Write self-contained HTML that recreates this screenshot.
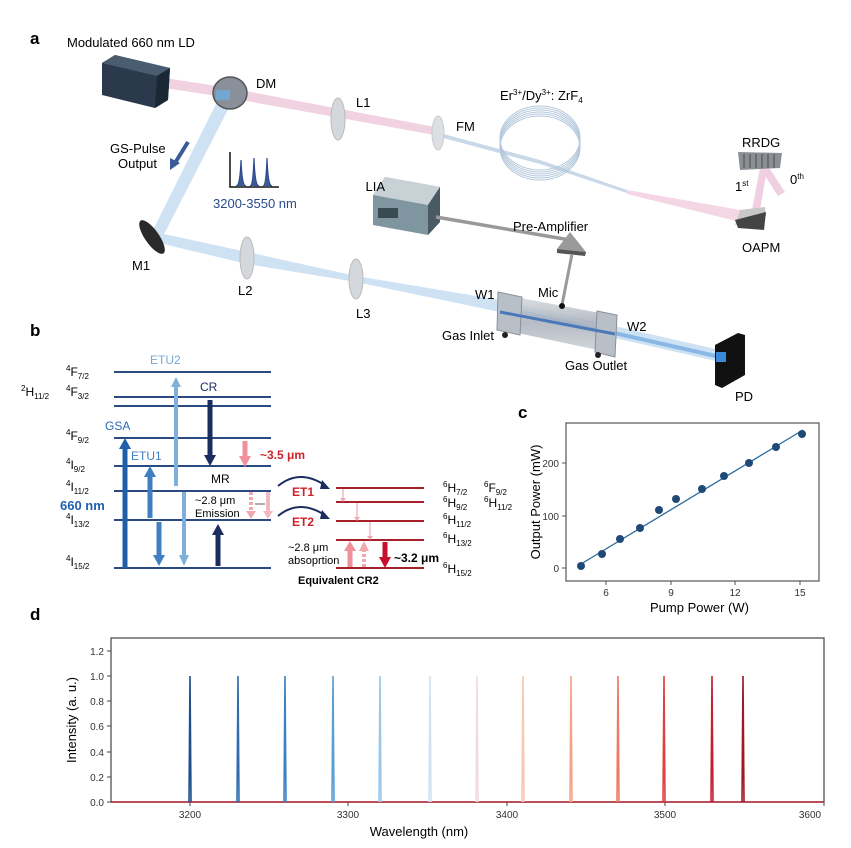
<!DOCTYPE html>
<html><head><meta charset="utf-8"><style>
html,body{margin:0;padding:0;background:#fff}
svg{display:block}
text{font-family:"Liberation Sans",Arial,sans-serif}
</style></head><body>
<svg width="851" height="848" viewBox="0 0 851 848" xmlns="http://www.w3.org/2000/svg">
<defs>
<linearGradient id="cellG" x1="0" y1="0" x2="0" y2="1"><stop offset="0" stop-color="#d8dce2"/><stop offset="0.5" stop-color="#a9b0ba"/><stop offset="1" stop-color="#c9ced5"/></linearGradient>
</defs>
<!-- ========== PANEL A ========== -->
<text x="30" y="44" font-size="17" font-weight="bold">a</text>
<text x="67" y="47" font-size="13">Modulated 660 nm LD</text>
<!-- beams -->
<polygon points="165,78 230,88 440,128 440,136 230,98 165,88" fill="#f0d2e0"/>
<polygon points="436,132 540,160 627,190 627,193 540,164 436,136" fill="#c8d8e8"/>
<polygon points="627,190 740,210 740,222 627,194" fill="#f4d6e4"/>
<polygon points="752,210 760,168 767,169 760,210" fill="#f0d0e0"/>
<polygon points="760,168 768,166 785,192 778,196" fill="#f0d0e0"/>
<polygon points="222,92 234,98 160,242 150,236" fill="#cfe2f4"/>
<polygon points="155,232 247,252 356,276 500,300 720,350 720,362 500,312 356,282 247,264 155,242" fill="#cfe2f4"/>
<line x1="500" y1="307" x2="720" y2="357" stroke="#8ab8e6" stroke-width="4"/>
<!-- LD -->
<polygon points="102,63 115,55 170,68 168,100 155,108 102,95" fill="#2a3a4c"/>
<polygon points="102,63 115,55 170,68 157,76" fill="#4a5d70"/>
<polygon points="157,76 170,68 168,100 155,108" fill="#1a2734"/>
<!-- DM -->
<ellipse cx="230" cy="93" rx="17" ry="16" fill="#8a909a" stroke="#555" stroke-width="1.5"/>
<rect x="216" y="90" width="14" height="10" fill="#6ab0e8" opacity="0.7"/>
<text x="256" y="88" font-size="13">DM</text>
<ellipse cx="338" cy="119" rx="7" ry="21" fill="#d4d7dc" stroke="#bbb"/>
<text x="356" y="107" font-size="13">L1</text>
<ellipse cx="438" cy="133" rx="6" ry="17" fill="#dcdfe3" stroke="#ccc"/>
<text x="456" y="131" font-size="13">FM</text>
<ellipse cx="247" cy="258" rx="7" ry="21" fill="#d4d7dc" stroke="#bbb"/>
<text x="238" y="295" font-size="13">L2</text>
<ellipse cx="356" cy="279" rx="7" ry="20" fill="#d4d7dc" stroke="#bbb"/>
<text x="356" y="318" font-size="13">L3</text>
<ellipse cx="152" cy="237" rx="7" ry="20" transform="rotate(-35 152 237)" fill="#2a2a2a"/>
<text x="132" y="270" font-size="13">M1</text>
<text x="110" y="153" font-size="13">GS-Pulse</text>
<text x="118" y="168" font-size="13">Output</text>
<line x1="188" y1="142" x2="175" y2="163" stroke="#3a5b98" stroke-width="4"/>
<polygon points="170,170 170,158 180,163" fill="#3a5b98"/>
<polyline points="230,152 230,187 279,187" fill="none" stroke="#111" stroke-width="1.5"/>
<path d="M236,186 Q240,186 241,160 Q242,186 246,186 M250,186 Q253,186 254,158 Q255,186 259,186 M263,186 Q266,186 267,158 Q268,186 272,186" fill="#3a5b98" stroke="#2b4a8a" stroke-width="1.2"/>
<text x="213" y="208" font-size="13" fill="#2b4a8a">3200-3550 nm</text>
<g fill="none" stroke="#b4c8dc" stroke-width="1">
<ellipse cx="540" cy="138" rx="40" ry="32"/><ellipse cx="540" cy="140" rx="40" ry="32"/><ellipse cx="540" cy="142" rx="40" ry="32"/><ellipse cx="540" cy="144" rx="40" ry="32"/><ellipse cx="540" cy="146" rx="40" ry="32"/><ellipse cx="540" cy="148" rx="40" ry="32"/>
</g>
<text x="500" y="100" font-size="13">Er<tspan font-size="8" dy="-5">3+</tspan><tspan dy="5">/Dy</tspan><tspan font-size="8" dy="-5">3+</tspan><tspan dy="5">: ZrF</tspan><tspan font-size="8" dy="3">4</tspan></text>
<polygon points="738,152 782,153 780,168 740,170" fill="#8a8f96"/>
<g stroke="#555" stroke-width="1.2"><line x1="744" y1="154" x2="744" y2="168"/><line x1="750" y1="154" x2="750" y2="168"/><line x1="756" y1="154" x2="756" y2="168"/><line x1="762" y1="154" x2="762" y2="168"/><line x1="768" y1="154" x2="768" y2="168"/><line x1="774" y1="154" x2="774" y2="168"/></g>
<text x="742" y="147" font-size="13">RRDG</text>
<text x="735" y="191" font-size="13">1<tspan font-size="8" dy="-5">st</tspan></text>
<text x="790" y="184" font-size="13">0<tspan font-size="8" dy="-5">th</tspan></text>
<polygon points="740,210 765,207 766,216 735,225" fill="#c8c8c8"/>
<polygon points="735,220 766,212 764,230 738,228" fill="#444"/>
<text x="742" y="252" font-size="13">OAPM</text>
<polygon points="373,195 385,177 440,187 440,222 428,235 373,225" fill="#7f959f"/>
<polygon points="373,195 385,177 440,187 428,205" fill="#c8d2d6"/>
<polygon points="428,205 440,187 440,222 428,235" fill="#4a5a62"/>
<rect x="378" y="208" width="20" height="10" fill="#3a4a52"/>
<text x="373" y="191" font-size="13" text-anchor="end" dx="12">LIA</text>
<polyline points="436,217 570,240" fill="none" stroke="#999" stroke-width="3.5"/>
<polygon points="557,249 570,232 586,252" fill="#9a9a9a"/>
<polygon points="557,249 586,252 585,256 557,253" fill="#555"/>
<line x1="572" y1="254" x2="562" y2="305" stroke="#999" stroke-width="3"/>
<text x="513" y="231" font-size="13">Pre-Amplifier</text>
<g>
<polygon points="505,295 600,313 598,350 503,330" fill="url(#cellG)" opacity="0.85"/>
<polygon points="498,292 522,297 520,335 497,330" fill="#b9bfc7" stroke="#8a9099"/>
<polygon points="597,311 617,315 615,357 595,352" fill="#b9bfc7" stroke="#8a9099"/>
<line x1="500" y1="312" x2="615" y2="334" stroke="#4a78b8" stroke-width="3"/>
<circle cx="562" cy="306" r="3" fill="#111"/>
<circle cx="505" cy="335" r="3" fill="#222"/>
<circle cx="598" cy="355" r="3" fill="#222"/>
</g>
<text x="475" y="299" font-size="13">W1</text>
<text x="538" y="297" font-size="13">Mic</text>
<text x="627" y="331" font-size="13">W2</text>
<text x="442" y="340" font-size="13">Gas Inlet</text>
<text x="565" y="370" font-size="13">Gas Outlet</text>
<polygon points="715,345 738,333 745,335 745,375 722,388 715,385" fill="#111"/>
<rect x="716" y="352" width="10" height="10" fill="#3a8ad8"/>
<text x="735" y="401" font-size="13">PD</text>

<!-- ========== PANEL B ========== -->
<text x="30" y="336" font-size="17" font-weight="bold">b</text>
<g stroke="#2c4a82" stroke-width="2">
<line x1="114" y1="372" x2="271" y2="372"/><line x1="114" y1="397" x2="271" y2="397"/><line x1="114" y1="406" x2="271" y2="406"/><line x1="114" y1="438" x2="271" y2="438"/><line x1="114" y1="466" x2="271" y2="466"/><line x1="114" y1="491" x2="271" y2="491"/><line x1="114" y1="520" x2="271" y2="520"/><line x1="114" y1="568" x2="271" y2="568"/>
</g>
<g font-size="12">
<text x="66" y="376"><tspan font-size="8" dy="-5">4</tspan><tspan dy="5">F</tspan><tspan font-size="8" dy="3">7/2</tspan></text>
<text x="21" y="396"><tspan font-size="8" dy="-5">2</tspan><tspan dy="5">H</tspan><tspan font-size="8" dy="3">11/2</tspan></text>
<text x="66" y="396"><tspan font-size="8" dy="-5">4</tspan><tspan dy="5">F</tspan><tspan font-size="8" dy="3">3/2</tspan></text>
<text x="66" y="440"><tspan font-size="8" dy="-5">4</tspan><tspan dy="5">F</tspan><tspan font-size="8" dy="3">9/2</tspan></text>
<text x="66" y="469"><tspan font-size="8" dy="-5">4</tspan><tspan dy="5">I</tspan><tspan font-size="8" dy="3">9/2</tspan></text>
<text x="66" y="491"><tspan font-size="8" dy="-5">4</tspan><tspan dy="5">I</tspan><tspan font-size="8" dy="3">11/2</tspan></text>
<text x="66" y="524"><tspan font-size="8" dy="-5">4</tspan><tspan dy="5">I</tspan><tspan font-size="8" dy="3">13/2</tspan></text>
<text x="66" y="566"><tspan font-size="8" dy="-5">4</tspan><tspan dy="5">I</tspan><tspan font-size="8" dy="3">15/2</tspan></text>
</g>
<text x="150" y="364" font-size="12" fill="#7aa7d6">ETU2</text>
<text x="200" y="391" font-size="12" fill="#1a2d5e">CR</text>
<text x="105" y="430" font-size="12" fill="#2a6ab5">GSA</text>
<text x="131" y="460" font-size="12" fill="#3f7fc2">ETU1</text>
<text x="211" y="483" font-size="12">MR</text>
<text x="60" y="510" font-size="13" font-weight="bold" fill="#1f5fb0">660 nm</text>
<text x="195" y="504" font-size="11">~2.8 μm</text>
<text x="195" y="517" font-size="11">Emission</text>
<text x="260" y="459" font-size="12" font-weight="bold" fill="#d0202a">~3.5 μm</text>
<g>
<line x1="125" y1="568" x2="125" y2="448" stroke="#1f5fa8" stroke-width="5"/><polygon points="119,449 131,449 125,438" fill="#1f5fa8"/>
<line x1="150" y1="518" x2="150" y2="476" stroke="#3f7fc2" stroke-width="5"/><polygon points="144,477 156,477 150,466" fill="#3f7fc2"/>
<line x1="176" y1="486" x2="176" y2="386" stroke="#7fb0dc" stroke-width="4"/><polygon points="171,387 181,387 176,377" fill="#7fb0dc"/>
<line x1="210" y1="400" x2="210" y2="456" stroke="#1a2d5e" stroke-width="5"/><polygon points="204,455 216,455 210,466" fill="#1a2d5e"/>
<line x1="159" y1="522" x2="159" y2="556" stroke="#3f7fc2" stroke-width="5"/><polygon points="153,555 165,555 159,566" fill="#3f7fc2"/>
<line x1="184" y1="492" x2="184" y2="556" stroke="#7fb0dc" stroke-width="4"/><polygon points="179,555 189,555 184,566" fill="#7fb0dc"/>
<line x1="218" y1="566" x2="218" y2="534" stroke="#1a2d5e" stroke-width="5"/><polygon points="212,535 224,535 218,524" fill="#1a2d5e"/>
<line x1="245" y1="441" x2="245" y2="458" stroke="#f0909a" stroke-width="5"/><polygon points="239,456 251,456 245,467" fill="#f0909a"/>
<line x1="251" y1="492" x2="251" y2="512" stroke="#f0a8b0" stroke-width="4" stroke-dasharray="3,2"/><polygon points="246,511 256,511 251,519" fill="#f0a8b0"/>
<line x1="268" y1="492" x2="268" y2="512" stroke="#f4b8c0" stroke-width="4"/><polygon points="263,511 273,511 268,519" fill="#f4b8c0"/>
<line x1="255" y1="504" x2="265" y2="504" stroke="#333" stroke-width="0.8"/>
</g>
<path d="M278,486 Q300,468 326,486" fill="none" stroke="#1a2d5e" stroke-width="2"/><polygon points="322,480 330,489 320,489" fill="#1a2d5e"/>
<path d="M278,516 Q300,498 326,516" fill="none" stroke="#1a2d5e" stroke-width="2"/><polygon points="322,510 330,519 320,519" fill="#1a2d5e"/>
<text x="292" y="496" font-size="12" font-weight="bold" fill="#d0202a">ET1</text>
<text x="292" y="526" font-size="12" font-weight="bold" fill="#d0202a">ET2</text>
<g stroke="#a8202a" stroke-width="2">
<line x1="336" y1="488" x2="424" y2="488"/><line x1="336" y1="502" x2="424" y2="502"/><line x1="336" y1="521" x2="424" y2="521"/><line x1="336" y1="540" x2="424" y2="540"/><line x1="336" y1="568" x2="424" y2="568"/>
</g>
<g stroke="#f0a8b0" stroke-width="1.2">
<line x1="343" y1="489" x2="343" y2="499"/><line x1="357" y1="503" x2="357" y2="518"/><line x1="370" y1="522" x2="370" y2="537"/>
</g>
<g fill="#f0a8b0"><polygon points="340,498 346,498 343,502"/><polygon points="354,517 360,517 357,521"/><polygon points="367,536 373,536 370,540"/></g>
<line x1="350" y1="567" x2="350" y2="550" stroke="#f0909a" stroke-width="5"/><polygon points="344,551 356,551 350,541" fill="#f0909a"/>
<line x1="364" y1="567" x2="364" y2="550" stroke="#f0a8b0" stroke-width="4" stroke-dasharray="3,2"/><polygon points="359,551 369,551 364,541" fill="#f0a8b0"/>
<line x1="385" y1="542" x2="385" y2="558" stroke="#c8102e" stroke-width="5"/><polygon points="379,557 391,557 385,568" fill="#c8102e"/>
<text x="394" y="562" font-size="12" font-weight="bold">~3.2 μm</text>
<text x="288" y="551" font-size="11">~2.8 μm</text>
<text x="288" y="564" font-size="11">absoprtion</text>
<text x="298" y="584" font-size="11" font-weight="bold">Equivalent CR2</text>
<g font-size="12">
<text x="443" y="492"><tspan font-size="8" dy="-5">6</tspan><tspan dy="5">H</tspan><tspan font-size="8" dy="3">7/2</tspan></text>
<text x="443" y="507"><tspan font-size="8" dy="-5">6</tspan><tspan dy="5">H</tspan><tspan font-size="8" dy="3">9/2</tspan></text>
<text x="443" y="524"><tspan font-size="8" dy="-5">6</tspan><tspan dy="5">H</tspan><tspan font-size="8" dy="3">11/2</tspan></text>
<text x="443" y="543"><tspan font-size="8" dy="-5">6</tspan><tspan dy="5">H</tspan><tspan font-size="8" dy="3">13/2</tspan></text>
<text x="443" y="573"><tspan font-size="8" dy="-5">6</tspan><tspan dy="5">H</tspan><tspan font-size="8" dy="3">15/2</tspan></text>
<text x="484" y="492"><tspan font-size="8" dy="-5">6</tspan><tspan dy="5">F</tspan><tspan font-size="8" dy="3">9/2</tspan></text>
<text x="484" y="507"><tspan font-size="8" dy="-5">6</tspan><tspan dy="5">H</tspan><tspan font-size="8" dy="3">11/2</tspan></text>
</g>

<!-- ========== PANEL C ========== -->
<text x="518" y="418" font-size="17" font-weight="bold">c</text>
<rect x="566" y="423" width="253" height="158" fill="none" stroke="#555" stroke-width="1.2"/>
<g stroke="#555" stroke-width="1"><line x1="606" y1="581" x2="606" y2="585"/><line x1="671" y1="581" x2="671" y2="585"/><line x1="735" y1="581" x2="735" y2="585"/><line x1="800" y1="581" x2="800" y2="585"/>
<line x1="562" y1="568" x2="566" y2="568"/><line x1="562" y1="516" x2="566" y2="516"/><line x1="562" y1="463" x2="566" y2="463"/></g>
<g font-size="10" fill="#333" text-anchor="middle"><text x="606" y="596">6</text><text x="671" y="596">9</text><text x="735" y="596">12</text><text x="800" y="596">15</text></g>
<g font-size="10" fill="#333" text-anchor="end"><text x="559" y="572">0</text><text x="559" y="520">100</text><text x="559" y="467">200</text></g>
<text x="650" y="612" font-size="13">Pump Power (W)</text>
<text transform="translate(540,502) rotate(-90)" font-size="13" text-anchor="middle">Output Power (mW)</text>
<line x1="581" y1="564" x2="803" y2="430" stroke="#2a6a9a" stroke-width="1.3"/>
<g fill="#1f4a78">
<circle cx="581" cy="566" r="4"/><circle cx="602" cy="554" r="4"/><circle cx="620" cy="539" r="4"/><circle cx="640" cy="528" r="4"/><circle cx="659" cy="510" r="4"/><circle cx="676" cy="499" r="4"/><circle cx="702" cy="489" r="4"/><circle cx="724" cy="476" r="4"/><circle cx="749" cy="463" r="4"/><circle cx="776" cy="447" r="4"/><circle cx="802" cy="434" r="4"/>
</g>

<!-- ========== PANEL D ========== -->
<text x="30" y="620" font-size="17" font-weight="bold">d</text>
<rect x="111" y="638" width="713" height="164" fill="none" stroke="#444" stroke-width="1.2"/>
<g stroke="#444" stroke-width="1">
<line x1="107" y1="802" x2="111" y2="802"/><line x1="107" y1="777" x2="111" y2="777"/><line x1="107" y1="752" x2="111" y2="752"/><line x1="107" y1="726" x2="111" y2="726"/><line x1="107" y1="701" x2="111" y2="701"/><line x1="107" y1="676" x2="111" y2="676"/><line x1="107" y1="651" x2="111" y2="651"/>
<line x1="190" y1="802" x2="190" y2="806"/><line x1="348" y1="802" x2="348" y2="806"/><line x1="507" y1="802" x2="507" y2="806"/><line x1="665" y1="802" x2="665" y2="806"/><line x1="824" y1="802" x2="824" y2="806"/>
</g>
<g font-size="10" fill="#333" text-anchor="end"><text x="104" y="806">0.0</text><text x="104" y="781">0.2</text><text x="104" y="756">0.4</text><text x="104" y="730">0.6</text><text x="104" y="705">0.8</text><text x="104" y="680">1.0</text><text x="104" y="655">1.2</text></g>
<g font-size="10" fill="#333" text-anchor="middle"><text x="190" y="818">3200</text><text x="348" y="818">3300</text><text x="507" y="818">3400</text><text x="665" y="818">3500</text><text x="810" y="818">3600</text></g>
<text x="419" y="836" font-size="13" text-anchor="middle">Wavelength (nm)</text>
<text transform="translate(76,720) rotate(-90)" font-size="13" text-anchor="middle">Intensity (a. u.)</text>
<line x1="111" y1="802" x2="824" y2="802" stroke="#b02030" stroke-width="1.5"/>
<g stroke-width="1.6" fill="none">
<path d="M189,802 L190,676 L191,802" stroke="#1f4e8c"/>
<path d="M237,802 L238,676 L239,802" stroke="#2f6db0"/>
<path d="M284,802 L285,676 L286,802" stroke="#3b82c4"/>
<path d="M332,802 L333,676 L334,802" stroke="#5a9fd4"/>
<path d="M379,802 L380,676 L381,802" stroke="#9cc6e8"/>
<path d="M429,802 L430,676 L431,802" stroke="#d0e2f2"/>
<path d="M476,802 L477,676 L478,802" stroke="#f0dcdf"/>
<path d="M522,802 L523,676 L524,802" stroke="#f8c8b0"/>
<path d="M570,802 L571,676 L572,802" stroke="#f4a486"/>
<path d="M617,802 L618,676 L619,802" stroke="#ee7a64"/>
<path d="M663,802 L664,676 L665,802" stroke="#e04040"/>
<path d="M711,802 L712,676 L713,802" stroke="#c42030"/>
<path d="M742,802 L743,676 L744,802" stroke="#9e1a26"/>
</g>
</svg>
</body></html>
